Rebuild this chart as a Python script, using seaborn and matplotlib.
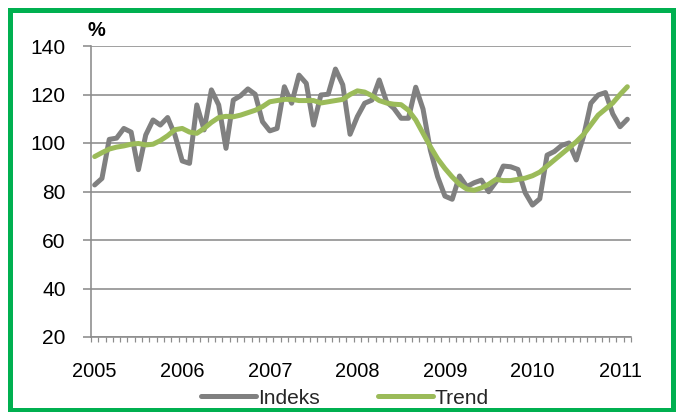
import numpy as np
import pandas as pd
import matplotlib
matplotlib.use("Agg")
import matplotlib.pyplot as plt
from matplotlib.patches import Rectangle
from matplotlib.ticker import FixedLocator
from matplotlib.lines import Line2D
import seaborn as sns

# Monthly values, January 2005 - February 2011
indeks = [
    82.7, 85.4, 101.5, 102.0, 106.0, 104.5, 89.0, 103.3, 109.5, 107.4, 110.5, 103.3,
    92.6, 91.6, 115.7, 105.4, 121.9, 115.7, 97.8, 117.7, 119.5, 122.3, 120.1, 108.8,
    105.0, 106.0, 123.2, 116.4, 128.0, 124.6, 107.4, 119.8, 120.1, 130.5, 124.0, 103.6,
    110.9, 116.4, 117.7, 126.0, 117.0, 114.3, 110.2, 110.2, 123.0, 114.0, 97.1, 86.1,
    78.1, 76.8, 86.4, 82.0, 83.6, 84.7, 79.9, 84.0, 90.5, 90.2, 89.1, 79.5,
    74.4, 77.0, 95.0, 96.5, 99.0, 100.0, 93.0, 102.8, 116.4, 119.8, 120.8, 112.0,
    106.7, 109.8,
]
trend = [
    94.4, 96.0, 97.5, 98.3, 98.8, 99.5, 99.8, 99.2, 99.5, 101.0, 103.0, 105.5,
    106.0, 104.5, 104.0, 106.0, 108.5, 110.5, 111.0, 110.8, 111.5, 112.5, 113.5, 115.0,
    117.0, 117.5, 118.0, 118.0, 117.5, 117.5, 117.5, 116.5, 117.0, 117.5, 118.0, 120.0,
    121.5, 121.0, 119.5, 117.5, 116.5, 116.0, 115.8, 113.5, 109.5, 104.0, 98.5, 93.5,
    89.5, 86.0, 83.0, 81.0, 80.5, 81.5, 83.0, 85.0, 84.5, 84.5, 85.0, 85.5,
    86.5, 88.0, 90.5, 93.0, 95.5, 98.0, 100.5, 103.5, 107.5, 111.5, 114.0, 116.5,
    120.0, 123.2,
]
years = ["2005", "2006", "2007", "2008", "2009", "2010", "2011"]
y_ticks = [20, 40, 60, 80, 100, 120, 140]

W, H, DPI = 678, 412, 100
sns.set_theme(style="white")
plt.rcParams["font.family"] = ["Liberation Sans", "DejaVu Sans"]

fig = plt.figure(figsize=(W / DPI, H / DPI), dpi=DPI)
ax = fig.add_axes([91 / W, 1 - 337 / H, (631 - 91) / W, (337 - 46) / H])

n = len(indeks)
df = pd.DataFrame({"month": np.arange(n), "Indeks": indeks, "Trend": trend})
long = df.melt(id_vars="month", var_name="serie", value_name="verdi")

px = 72 / DPI  # points per pixel
sns.lineplot(
    data=long, x="month", y="verdi", hue="serie",
    palette={"Indeks": "#808080", "Trend": "#9bbb59"},
    linewidth=5 * px, ax=ax, legend=False, sort=False,
)
for ln in ax.lines:
    ln.set_solid_joinstyle("round")
    ln.set_solid_capstyle("round")

ax.set_xlim(-0.5, n - 0.5)
ax.set_ylim(20, 140)

grid_col = "#8c8c8c"
ax.set_yticks(y_ticks)
ax.yaxis.grid(True, color=grid_col, linewidth=1.6 * px)
ax.set_axisbelow(True)
ax.tick_params(axis="y", which="major", length=8 * px, width=1.6 * px,
               color=grid_col, direction="out", left=True, pad=12.5,
               labelsize=21 * px, labelcolor="black")

ax.set_xticks(np.arange(0, n, 12))
ax.set_xticklabels(years)
ax.xaxis.set_minor_locator(FixedLocator(np.arange(-0.5, n, 1.0)))
ax.tick_params(axis="x", which="major", length=0, pad=18,
               labelsize=20 * px, labelcolor="black")
ax.tick_params(axis="x", which="minor", length=5 * px, width=1.2 * px,
               color=grid_col, direction="out", bottom=True)

for side in ("top", "right"):
    ax.spines[side].set_visible(False)
for side in ("left", "bottom"):
    ax.spines[side].set_color(grid_col)
    ax.spines[side].set_linewidth(1.6 * px)

ax.set_xlabel("")
ax.set_ylabel("")

fig.text(88 / W, 1 - 31 / H, "%", fontsize=20 * px, fontweight="bold",
         ha="left", va="center", color="black")

# Legend below the axis
handles = [
    Line2D([], [], color="#808080", linewidth=5 * px),
    Line2D([], [], color="#9bbb59", linewidth=5 * px),
]
fig.legend(handles, ["Indeks", "Trend"], loc="center",
           bbox_to_anchor=(345 / W, 1 - 398 / H), ncol=2, frameon=False,
           fontsize=21 * px, handlelength=2.6, handletextpad=0.1,
           columnspacing=2.8, borderpad=0)

# Green frame around the whole chart
fig.patches.append(Rectangle((9.8 / W, 1 - 410 / H), (672.8 - 9.8) / W, (410 - 9.8) / H,
                             transform=fig.transFigure, fill=False,
                             edgecolor="#00b050", linewidth=5 * px))

fig.savefig("out.png", dpi=DPI, facecolor="white")
